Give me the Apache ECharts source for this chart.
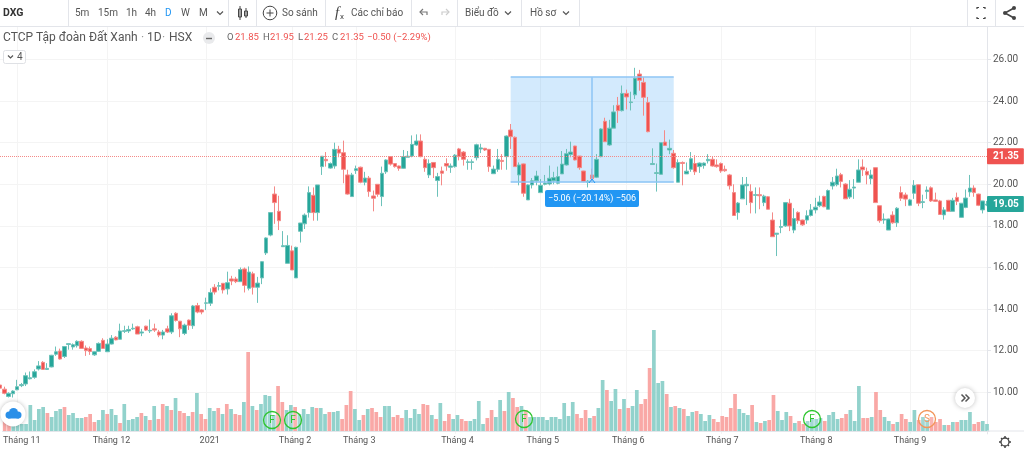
<!DOCTYPE html>
<html>
<head>
<meta charset="utf-8">
<title>DXG</title>
<script src="https://cdn.jsdelivr.net/npm/echarts@6/dist/echarts.min.js"></script>
<style>
  html, body { margin: 0; padding: 0; background: #fff; }
  #chart { width: 1024px; height: 450px; }
</style>
</head>
<body>
<div id="chart"></div>
<script>
const opens = [
  10.35,10.15,9.8,9.93,10.12,10.32,10.4,10.65,10.72,11.12,
  11.44,11.1,11.22,11.83,11.98,11.72,12.3,12.18,12.24,12.45,
  12.13,12.1,11.8,11.97,12.5,11.95,12.32,12.65,12.55,12.93,
  12.95,13.05,13.15,12.85,13.18,12.95,13.05,12.9,12.75,13.05,
  12.9,13.8,13.42,12.83,13.47,13.2,14.17,13.96,14.28,14.28,
  15.05,15.1,15.24,14.97,15.45,15.45,15.32,15.93,15.0,15.7,
  15.05,15.5,16.7,17.56,19.53,18.7,17.0,16.2,16.8,15.5,
  17.74,18.1,18.64,19.47,18.64,20.85,21.2,20.78,20.88,21.68,
  21.52,20.45,19.41,20.66,20.82,20.1,20.3,19.44,20.0,19.41,
  20.6,21.33,21.0,20.88,20.77,21.3,21.36,21.89,22.08,21.2,
  20.45,21.05,20.18,20.64,21.0,20.82,20.85,21.7,21.55,21.05,
  21.05,21.28,21.7,21.73,21.68,20.51,20.72,21.15,21.33,22.61,
  22.26,20.45,20.98,19.25,19.97,20.17,19.6,20.0,20.02,20.17,
  20.05,20.5,20.93,21.43,21.84,21.36,20.64,20.1,20.45,20.34,
  21.33,23.03,21.89,22.7,23.8,23.54,24.37,23.93,24.3,25.3,
  24.9,23.93,20.95,20.52,20.48,22.03,21.65,21.49,20.1,21.05,
  20.5,20.72,21.0,20.85,20.9,21.13,21.2,20.93,21.0,20.72,
  20.45,19.6,18.64,19.3,19.93,19.66,19.47,19.5,19.12,19.4,
  18.28,17.6,17.93,18.0,19.09,17.8,18.65,18.28,18.28,18.5,
  18.77,18.97,19.42,18.8,19.92,19.98,20.46,20.01,19.39,19.82,
  20.1,20.83,20.62,20.27,20.8,18.97,18.28,17.8,18.52,18.15,
  19.6,19.49,18.99,19.57,19.98,19.13,19.65,19.83,19.25,19.2,
  18.53,19.23,18.7,19.37,18.41,18.89,19.63,19.82,19.53,18.77,19.0
];
const closes = [
  10.2,9.95,9.95,10.06,10.27,10.37,10.8,10.7,10.99,11.27,
  11.1,11.15,11.78,11.95,11.6,12.2,12.34,12.29,12.45,12.11,
  12.0,11.96,11.95,12.35,12.11,12.32,12.6,12.52,12.95,12.96,
  13.02,13.08,12.8,12.9,12.99,12.98,12.99,12.75,12.9,12.9,
  13.68,13.45,13.05,13.23,13.22,14.15,13.86,13.86,14.3,14.8,
  14.82,15.13,14.92,15.27,15.35,15.32,15.9,15.14,15.78,15.05,
  15.25,16.28,17.42,18.64,19.12,18.25,17.05,17.06,15.88,16.97,
  18.14,18.52,19.6,18.64,19.97,21.35,21.13,21.0,21.68,21.5,
  20.72,19.53,20.45,20.75,20.1,20.3,19.65,19.33,19.52,20.53,
  21.17,20.97,20.85,20.77,21.33,21.35,21.92,22.08,21.33,20.8,
  21.0,20.8,20.37,20.53,20.88,20.88,21.4,21.33,21.2,21.08,
  21.08,21.9,21.75,21.65,20.85,20.73,21.2,21.1,22.32,22.29,
  20.85,20.93,19.57,19.97,20.17,20.4,19.95,20.06,20.29,20.32,
  20.37,20.97,21.47,21.55,21.17,20.8,20.13,20.15,20.27,21.2,
  22.66,22.05,22.7,23.48,23.54,24.37,24.2,23.96,25.1,25.0,
  24.18,22.53,21.0,20.56,22.0,21.87,21.73,20.8,21.05,21.0,
  20.63,21.23,20.6,21.02,21.02,21.2,20.88,20.85,20.64,20.65,
  19.93,18.5,19.1,19.97,20.0,19.12,19.5,19.45,19.43,18.8,
  17.48,17.65,17.97,19.12,18.0,18.35,18.25,18.05,18.49,18.77,
  18.9,19.15,18.92,19.7,20.1,20.4,20.14,19.3,19.76,19.87,
  20.69,20.7,20.45,20.45,19.12,18.25,18.33,18.33,18.15,18.85,
  19.33,19.29,19.25,19.95,19.09,19.16,19.72,19.2,19.18,18.55,
  18.77,18.7,19.23,19.18,19.09,19.34,19.82,19.6,18.99,19.2,19.05
];
const lows = [
  10.15,9.9,9.75,9.75,10.1,10.25,10.3,10.62,10.65,11.05,
  11.1,11.08,11.2,11.75,11.57,11.65,12.05,12.05,12.15,12.1,
  11.75,11.8,11.75,11.95,12.1,11.95,12.3,12.5,12.55,12.85,
  12.85,13.0,12.8,12.7,12.95,12.85,12.9,12.65,12.55,12.85,
  12.8,13.4,12.65,12.75,13.0,13.05,13.8,13.75,13.95,14.15,
  14.7,14.9,14.75,14.7,15.15,15.25,15.3,14.8,14.9,14.7,
  14.3,15.2,16.6,17.5,18.1,17.8,17.0,16.2,15.88,15.5,
  17.2,17.85,18.4,18.25,18.25,20.45,20.85,20.75,20.75,21.3,
  20.05,19.5,19.41,20.5,20.05,19.95,19.4,18.7,19.4,18.95,
  20.5,20.9,20.8,20.65,20.75,21.3,21.3,21.85,21.3,20.6,
  20.3,20.3,19.4,19.95,20.65,20.55,20.8,21.15,20.9,20.7,
  20.7,21.15,21.5,21.6,20.6,20.5,20.6,20.7,20.7,21.7,
  20.85,19.95,19.4,19.25,19.8,19.95,19.6,19.95,19.95,20.0,
  20.0,20.5,20.9,21.3,21.15,20.7,20.1,19.85,20.15,20.3,
  21.3,22.05,21.85,22.7,22.95,23.5,23.6,23.55,24.1,24.5,
  23.3,22.5,20.93,19.65,20.48,21.85,21.45,20.75,20.1,19.95,
  20.5,20.6,20.45,20.55,20.75,21.0,20.85,20.8,20.55,20.6,
  19.75,18.5,18.3,19.3,19.0,18.6,18.6,18.8,18.95,18.8,
  17.48,16.55,17.65,17.95,17.75,17.65,18.1,18.0,18.1,18.45,
  18.6,18.9,18.9,18.8,19.75,19.9,19.85,19.3,19.3,19.3,
  20.1,20.4,20.0,20.0,19.1,18.15,18.1,17.8,18.1,17.95,
  19.2,18.95,18.95,19.3,18.95,18.85,19.3,19.15,19.15,18.55,
  18.3,18.7,18.7,19.0,18.4,18.85,19.4,19.4,18.95,18.6,18.95
];
const highs = [
  10.45,10.27,10.0,10.1,10.6,10.45,10.95,11.0,11.1,11.5,
  11.5,11.4,11.8,12.2,12.1,12.2,12.35,12.35,12.5,12.5,
  12.25,12.2,11.97,12.4,12.6,12.55,12.75,12.7,13.3,13.2,
  13.2,13.3,13.2,13.05,13.2,13.5,13.3,13.0,13.0,13.2,
  13.8,13.85,13.42,13.3,13.5,14.2,14.3,14.0,14.55,15.0,
  15.2,15.3,15.25,15.8,15.6,15.55,16.0,16.0,16.05,15.8,
  15.55,16.3,17.45,18.65,19.9,19.45,17.75,17.55,17.05,17.0,
  18.14,18.6,19.9,19.85,19.97,21.35,21.55,21.05,22.0,21.85,
  22.1,20.7,20.55,20.9,20.85,20.6,20.4,19.7,20.0,20.85,
  21.2,21.35,21.0,20.9,21.65,21.6,22.35,22.4,22.4,21.3,
  21.2,21.05,20.55,20.85,21.25,21.0,21.45,21.75,21.6,21.2,
  21.2,21.95,21.95,21.75,21.7,20.9,21.7,21.45,22.35,22.9,
  22.3,21.05,21.0,20.0,20.3,20.65,20.25,20.45,20.9,20.6,
  20.85,21.6,21.7,22.05,21.85,21.36,20.65,20.2,20.75,21.45,
  22.7,23.2,23.1,23.8,24.2,24.75,24.55,24.45,25.6,25.5,
  25.15,24.2,21.73,21.0,22.0,22.6,22.15,21.65,21.2,21.1,
  21.05,21.55,21.4,21.05,21.05,21.45,21.35,21.2,21.05,20.9,
  20.5,20.0,19.15,20.35,20.35,20.0,19.85,19.85,19.5,19.43,
  18.65,17.65,18.3,19.15,19.3,18.85,18.7,18.3,18.75,19.05,
  19.35,19.45,19.45,19.75,20.35,20.75,20.55,20.05,20.2,20.25,
  21.2,21.2,20.8,20.7,20.8,18.97,18.6,18.35,18.7,18.9,
  19.9,19.6,19.3,20.2,20.0,19.5,19.9,19.9,19.6,19.25,
  18.9,19.25,19.35,19.6,19.1,19.75,20.45,19.95,19.55,19.2,19.2
];
const volumes = [
  11,11,9,12,7,7,26,11,22,24,
  18,14,20,22,24,16,18,13,13,14,
  17,9,11,21,17,22,16,8,27,11,
  12,14,18,15,11,25,12,27,25,21,
  33,20,18,15,19,38,17,12,23,20,
  23,17,27,22,17,16,29,79,25,21,
  27,36,35,16,45,29,21,26,24,17,
  22,17,24,23,23,17,19,19,20,12,
  26,40,22,11,16,22,23,19,14,25,
  25,14,16,13,21,13,22,17,27,26,
  16,12,28,10,17,12,16,12,10,10,
  12,30,7,13,21,14,31,20,39,33,
  24,25,21,14,14,14,14,11,14,14,
  12,28,15,29,17,13,21,13,15,23,
  51,41,30,42,22,32,23,25,41,27,
  32,63,101,48,50,37,24,25,23,22,
  15,19,20,17,10,16,12,9,15,14,
  23,37,22,18,16,26,9,8,10,11,
  36,20,11,19,15,8,10,7,10,12,
  12,13,10,16,19,12,13,17,21,10,
  45,13,13,14,39,21,14,10,7,9,
  17,12,9,21,11,14,11,14,9,12,
  6,6,9,9,11,11,19,7,9,10,7
];
const tickIndex = [4, 25, 48, 68, 83, 106, 126, 146, 168, 190, 212];
const tickLabels = ['Tháng 11', 'Tháng 12', '2021', 'Tháng 2', 'Tháng 3', 'Tháng 4', 'Tháng 5', 'Tháng 6', 'Tháng 7', 'Tháng 8', 'Tháng 9'];

const UP = '#26a69a';
const DOWN = '#ef5350';
const FONT = 'Roboto, "Noto Sans", sans-serif';
const GRID_LINE = '#f4f4f4';
const BORDER = '#e3e5ea';

const categories = opens.map((_, i) => {
  const t = tickIndex.indexOf(i);
  return t >= 0 ? tickLabels[t] : '';
});
const isTick = (i) => tickIndex.indexOf(i) >= 0;

// ---- overlay helpers for the toolbar chrome
function label(x, y, text, fill, size, extra) {
  return {
    type: 'text', x, y, z: 200, silent: true,
    style: Object.assign({
      text, fill: fill || '#555', font: (size || 10) + 'px ' + FONT,
      textVerticalAlign: 'middle'
    }, extra || {})
  };
}
function seg(x1, y1, x2, y2, stroke, w) {
  return { type: 'line', z: 200, silent: true, shape: { x1, y1, x2, y2 }, style: { stroke: stroke || BORDER, lineWidth: w || 1 } };
}
function poly(points, stroke, w) {
  return { type: 'polyline', z: 200, silent: true, shape: { points }, style: { stroke: stroke || '#555', lineWidth: w || 1.2, fill: 'none' } };
}
function chevron(x, y) {
  return poly([[x - 3, y - 1.5], [x, y + 1.5], [x + 3, y - 1.5]], '#555', 1.2);
}
function badge(x, y, letter, color) {
  return [
    { type: 'circle', z: 150, silent: true, shape: { cx: x, cy: y, r: 8.5 }, style: { fill: 'rgba(255,255,255,0.15)', stroke: color, lineWidth: 1.3 } },
    label(x, y, letter, color, 10, { textAlign: 'center' })
  ];
}

const toolbar = [
  { type: 'rect', z: 190, silent: true, shape: { x: 0, y: 0, width: 1024, height: 26 }, style: { fill: '#fff' } },
  seg(0, 26.5, 1024, 26.5),
  label(3, 13, 'DXG', '#333', 11, { font: 'bold 10.5px ' + FONT }),
  label(75, 13, '5m'), label(98, 13, '15m'), label(126, 13, '1h'), label(145, 13, '4h'),
  label(165, 13, 'D', '#2196f3'), label(181, 13, 'W'), label(199, 13, 'M'),
  chevron(220, 13),
  label(282, 13, 'So sánh'), label(351, 13, 'Các chỉ báo'),
  label(465, 13, 'Biểu đồ'), chevron(508, 13),
  label(530, 13, 'Hồ sơ'), chevron(566, 13),
  // separators
  seg(68.5, 0, 68.5, 26), seg(228.5, 0, 228.5, 26), seg(256.5, 0, 256.5, 26), seg(325.5, 0, 325.5, 26),
  seg(411.5, 0, 411.5, 26), seg(457.5, 0, 457.5, 26), seg(521.5, 0, 521.5, 26), seg(579.5, 0, 579.5, 26),
  seg(967.5, 0, 967.5, 26), seg(995.5, 0, 995.5, 26),
  // candle icon
  { type: 'rect', z: 200, silent: true, shape: { x: 238.5, y: 9, width: 3, height: 8 }, style: { fill: '#fff', stroke: '#444' } },
  seg(240, 6, 240, 20, '#444'),
  { type: 'rect', z: 200, silent: true, shape: { x: 244.5, y: 11, width: 3, height: 5 }, style: { fill: '#fff', stroke: '#444' } },
  seg(246, 8, 246, 18, '#444'),
  // compare icon
  { type: 'circle', z: 200, silent: true, shape: { cx: 270, cy: 13, r: 6.8 }, style: { fill: '#fff', stroke: '#444', lineWidth: 1 } },
  seg(266.5, 13, 273.5, 13, '#444'), seg(270, 9.5, 270, 16.5, '#444'),
  // indicators icon
  label(335, 13, 'f', '#444', 15, { font: 'italic 15px serif' }),
  label(340, 17, 'x', '#444', 8),
  // undo / redo
  poly([[427, 15], [427, 12], [420, 12]], '#777'), poly([[423, 9], [420, 12], [423, 15]], '#777'),
  poly([[442, 15], [442, 12], [449, 12]], '#ccc'), poly([[446, 9], [449, 12], [446, 15]], '#ccc'),
  // fullscreen
  poly([[977, 9], [977, 7.5], [979, 7.5]], '#444'), poly([[983, 7.5], [985, 7.5], [985, 9]], '#444'),
  poly([[977, 17], [977, 18.5], [979, 18.5]], '#444'), poly([[983, 18.5], [985, 18.5], [985, 17]], '#444'),
  // share
  poly([[1014, 8], [1005, 13], [1014, 18]], '#444', 1.6),
  { type: 'circle', z: 200, silent: true, shape: { cx: 1014, cy: 8, r: 2 }, style: { fill: '#444' } },
  { type: 'circle', z: 200, silent: true, shape: { cx: 1005, cy: 13, r: 2 }, style: { fill: '#444' } },
  { type: 'circle', z: 200, silent: true, shape: { cx: 1014, cy: 18, r: 2 }, style: { fill: '#444' } }
];

const legendRow = [
  label(3, 38, 'CTCP Tập đoàn Đất Xanh', '#555', 12),
  label(141, 38, '·', '#999', 12),
  label(147, 38, '1D', '#555', 12),
  label(162, 38, '·', '#999', 12),
  label(169, 38, 'HSX', '#555', 12),
  { type: 'circle', z: 200, silent: true, shape: { cx: 209, cy: 38, r: 6 }, style: { fill: '#e9eaec' } },
  seg(206, 38.5, 212, 38.5, '#666', 1.4),
  label(227, 38, 'O', '#666', 9.5), label(235, 38, '21.85', DOWN, 9.5),
  label(263, 38, 'H', '#666', 9.5), label(270, 38, '21.95', DOWN, 9.5),
  label(298, 38, 'L', '#666', 9.5), label(304, 38, '21.25', DOWN, 9.5),
  label(332, 38, 'C', '#666', 9.5), label(340, 38, '21.35', DOWN, 9.5),
  label(367, 38, '−0.50 (−2.29%)', DOWN, 9.5),
  { type: 'rect', z: 200, silent: true, shape: { x: 3.5, y: 50.5, width: 22, height: 13, r: 2 }, style: { fill: '#fff', stroke: '#dfe1e5' } },
  poly([[8, 55.5], [10.5, 58], [13, 55.5]], '#555'),
  label(17, 57, '4', '#555', 10)
];

const tags = [
  { type: 'rect', z: 160, silent: true, shape: { x: 545, y: 190, width: 94, height: 17, r: 2 }, style: { fill: '#2196f3' } },
  label(592, 198.5, '−5.06 (−20.14%) −506', '#fff', 9, { textAlign: 'center' }),
  poly([[589, 183], [592, 179], [595, 183]], '#2196f3', 1)
];

const eventBadges = [].concat(
  badge(272, 420, 'F', '#2ec52e'),
  badge(293, 420, 'F', '#2ec52e'),
  badge(524, 419, 'F', '#2ec52e'),
  badge(812, 419, 'F', '#2ec52e'),
  badge(927, 419, 'S', '#f2955a')
);

const corners = [
  // cloud logo, bottom left
  { type: 'circle', z: 170, silent: true, shape: { cx: 13, cy: 414, r: 12.5 }, style: { fill: '#fff', shadowBlur: 4, shadowColor: 'rgba(0,0,0,0.25)' } },
  { type: 'circle', z: 171, silent: true, shape: { cx: 9, cy: 415, r: 3.5 }, style: { fill: '#2a8fe8' } },
  { type: 'circle', z: 171, silent: true, shape: { cx: 13.5, cy: 412.5, r: 4.5 }, style: { fill: '#2a8fe8' } },
  { type: 'circle', z: 171, silent: true, shape: { cx: 18, cy: 415, r: 3.5 }, style: { fill: '#2a8fe8' } },
  { type: 'rect', z: 171, silent: true, shape: { x: 8, y: 415, width: 11, height: 3.5 }, style: { fill: '#2a8fe8' } },
  // scroll-to-latest button
  { type: 'circle', z: 170, silent: true, shape: { cx: 965, cy: 398, r: 10 }, style: { fill: '#fff', shadowBlur: 5, shadowColor: 'rgba(0,0,0,0.25)' } },
  poly([[961.5, 394.5], [965, 398], [961.5, 401.5]], '#555', 1.5),
  poly([[965.5, 394.5], [969, 398], [965.5, 401.5]], '#555', 1.5),
  // settings gear
  { type: 'circle', z: 200, silent: true, shape: { cx: 1005, cy: 442, r: 4 }, style: { fill: '#fff', stroke: '#444', lineWidth: 1.3 } },
  seg(1005, 436, 1005, 438, '#444', 1.5), seg(1005, 446, 1005, 448, '#444', 1.5),
  seg(999, 442, 1001, 442, '#444', 1.5), seg(1009, 442, 1011, 442, '#444', 1.5),
  seg(1001, 438, 1002, 439, '#444', 1.3), seg(1008, 445, 1009, 446, '#444', 1.3),
  seg(1009, 438, 1008, 439, '#444', 1.3), seg(1002, 445, 1001, 446, '#444', 1.3),
  // axis corner
  seg(987, 431, 1024, 431)
];

const chart = echarts.init(document.getElementById('chart'));

chart.setOption({
  animation: false,
  backgroundColor: '#fff',
  textStyle: { fontFamily: FONT },
  grid: [
    { left: 0, width: 987, top: 17.9, height: 416 },
    // same bar spacing as the price grid, with one band per bar so that bars line up with candles
    { left: -2.146, width: 991.3, top: 321, height: 110 }
  ],
  xAxis: [
    {
      type: 'category', gridIndex: 0, data: categories, boundaryGap: false,
      axisLine: { show: false }, axisTick: { show: false }, axisLabel: { show: false },
      splitLine: { show: true, interval: isTick, lineStyle: { color: GRID_LINE } }
    },
    {
      type: 'category', gridIndex: 1, data: categories, boundaryGap: true,
      axisLine: { show: true, lineStyle: { color: BORDER } }, axisTick: { show: false },
      axisLabel: { show: true, interval: isTick, color: '#555', fontSize: 9, margin: 5, hideOverlap: false },
      splitLine: { show: false }
    }
  ],
  yAxis: [
    {
      type: 'value', gridIndex: 0, position: 'right', min: 8, max: 28, interval: 2, scale: false,
      axisLine: { show: true, lineStyle: { color: BORDER } },
      axisTick: { show: true, length: 4, lineStyle: { color: BORDER } },
      axisLabel: {
        color: '#555', fontSize: 10, margin: 6, showMinLabel: false, showMaxLabel: false,
        formatter: (v) => v.toFixed(2)
      },
      splitLine: { show: true, showMinLine: false, showMaxLine: false, lineStyle: { color: GRID_LINE } }
    },
    {
      type: 'value', gridIndex: 1, min: 0, max: 110, show: false, splitLine: { show: false }
    }
  ],
  series: [
    {
      name: 'Volume', type: 'bar', xAxisIndex: 1, yAxisIndex: 1, barWidth: 3.7,
      z: 1, silent: true,
      data: volumes.map((v, i) => ({
        value: v,
        itemStyle: { color: closes[i] >= opens[i] ? '#92d2cc' : '#f9a8a6' }
      }))
    },
    {
      name: 'DXG', type: 'candlestick', xAxisIndex: 0, yAxisIndex: 0, barWidth: 4,
      z: 3, silent: true,
      itemStyle: { color: UP, color0: DOWN, borderColor: '#6dc2ba', borderColor0: '#f48a88', borderWidth: 1 },
      data: opens.map((o, i) => [o, closes[i], lows[i], highs[i]]),
      markArea: {
        silent: true, z: 1,
        itemStyle: { color: 'rgba(33,150,243,0.2)', borderWidth: 0 },
        data: [[{ xAxis: 119, yAxis: 25.15 }, { xAxis: 157, yAxis: 20.1 }]]
      },
      markLine: {
        silent: true, symbol: 'none', animation: false, precision: 2,
        data: [
          [
            { coord: [119, 25.15], lineStyle: { color: '#8cc4f5', width: 1.5, type: 'solid' }, label: { show: false } },
            { coord: [157, 25.15] }
          ],
          [
            { coord: [119, 20.1], lineStyle: { color: '#8cc4f5', width: 1.5, type: 'solid' }, label: { show: false } },
            { coord: [157, 20.1] }
          ],
          [
            { coord: [138, 25.15], lineStyle: { color: '#8cc4f5', width: 1.5, type: 'solid' }, label: { show: false } },
            { coord: [138, 20.1] }
          ],
          {
            yAxis: 21.35,
            lineStyle: { color: '#f48a88', width: 1, type: 'dotted' },
            label: {
              show: true, position: 'end', distance: 0, formatter: '21.35', color: '#fff',
              fontFamily: FONT, fontSize: 10, fontWeight: 'bold', backgroundColor: DOWN,
              padding: [3, 5, 3, 6], borderRadius: 1
            }
          },
          {
            yAxis: 19.05,
            lineStyle: { color: 'rgba(38,166,154,0)', width: 1 },
            label: {
              show: true, position: 'end', distance: 0, formatter: '19.05', color: '#fff',
              fontFamily: FONT, fontSize: 10, fontWeight: 'bold', backgroundColor: UP,
              padding: [3, 5, 3, 6], borderRadius: 1
            }
          }
        ]
      }
    }
  ],
  graphic: { elements: [].concat(toolbar, legendRow, tags, eventBadges, corners) }
});
</script>
</body>
</html>
